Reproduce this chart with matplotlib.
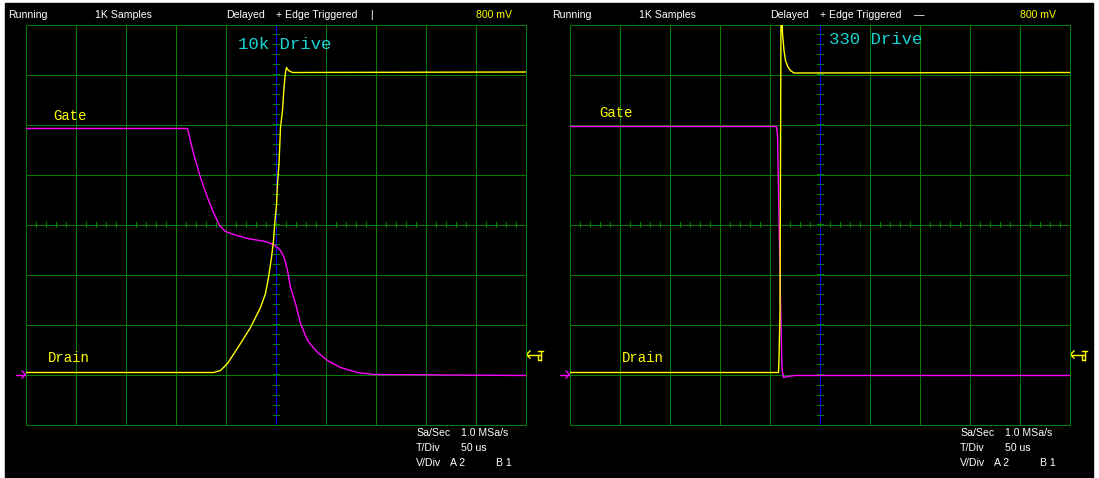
import matplotlib
matplotlib.use("Agg")
import matplotlib.pyplot as plt
from matplotlib.patches import Rectangle
import numpy as np

W, H = 1099, 478

# Scope traces, in screen divisions (x: -5..5, y: -4..4, 0 = screen centre)
GATE_10K_X = [-5.0, -1.76, -1.64, -1.50, -1.36, -1.24, -1.12, -1.00, -0.84, -0.56, -0.20,
              -0.04, 0.04, 0.10, 0.18, 0.24, 0.30, 0.40, 0.50, 0.64, 0.84, 1.04, 1.30, 1.64, 1.96, 5.0]
GATE_10K_Y = [1.92, 1.92, 1.42, 0.94, 0.54, 0.24, -0.02, -0.14, -0.20, -0.28, -0.34,
              -0.40, -0.46, -0.52, -0.68, -0.92, -1.26, -1.58, -1.98, -2.32, -2.56, -2.72, -2.86, -2.96, -3.00, -3.02]
DRAIN_10K_X = [-5.0, -1.24, -1.10, -0.96, -0.70, -0.50, -0.30, -0.20, -0.14, -0.08, -0.04, -0.01,
               0.02, 0.04, 0.07, 0.10, 0.14, 0.17, 0.20, 0.22, 0.26, 0.34, 5.0]
DRAIN_10K_Y = [-2.96, -2.96, -2.92, -2.78, -2.38, -2.06, -1.66, -1.38, -1.06, -0.66, -0.32, 0.08,
               0.38, 0.82, 1.22, 1.94, 2.28, 2.74, 3.04, 3.14, 3.08, 3.04, 3.05]

GATE_330_X = [-5.0, -0.86, -0.84, -0.78, -0.75, -0.72, -0.64, -0.48, 5.0]
GATE_330_Y = [1.96, 1.96, 1.78, -1.52, -2.88, -3.06, -3.04, -3.02, -3.02]
DRAIN_330_X = [-5.0, -0.82, -0.81, -0.79, -0.77, -0.76, -0.74, -0.71, -0.68, -0.63, -0.58, -0.51, 5.0]
DRAIN_330_Y = [-2.96, -2.96, -2.68, -1.76, 4.3, 4.5, 3.82, 3.48, 3.28, 3.15, 3.08, 3.03, 3.04]

PANEL_TITLES = ["10k Drive", "330 Drive"]
TRIG_SYMBOL = ["|", "\u2014"]
GND_LEVEL = -3.0
TRIG_LEVEL = -2.6

GREEN = "#008000"
YEL = "#FFFF00"
MAG = "#FF00FF"
CYAN = "#19D3D3"
SANS = "Liberation Sans"
MONO = "Liberation Mono"
LW = 0.5      # ~1 px, drawn aliased like the scope screen
TRACE_LW = 1.0


def fx(x):
    return x / W


def fy(y):
    return 1 - y / H


fig = plt.figure(figsize=(W / 100, H / 100), dpi=100, facecolor="white")
fig.add_artist(Rectangle((fx(5), fy(477)), 1088 / W, 474 / H, transform=fig.transFigure,
                         color="black", zorder=-5))


def panel(off, gate_x, gate_y, drain_x, drain_y, title, title_xy, gate_xy, drain_xy, trig):
    ax = fig.add_axes([fx(25.5 + off), fy(424.5), 500 / W, 400 / H])
    ax.set_facecolor("none")
    ax.set_xlim(-5, 5)
    ax.set_ylim(-4, 4)
    ax.set_xticks(np.arange(-5, 6))
    ax.set_yticks(np.arange(-4, 5))
    ax.tick_params(length=0, labelbottom=False, labelleft=False)
    ax.set_axisbelow(True)
    ax.grid(True, color=GREEN, lw=LW, antialiased=False)
    for s in ax.spines.values():
        s.set_color(GREEN)
        s.set_linewidth(LW)
        s.set_antialiased(False)
    # centre graticule: blue time reference + minor ticks
    ax.axvline(0, color="#0000FF", lw=LW, zorder=1.5, antialiased=False)
    minor = np.arange(-5, 5.01, 0.2)
    ax.vlines(minor, -0.05, 0.05, color=GREEN, lw=LW, zorder=1.6, antialiased=False)
    minor_y = np.arange(-4, 4.01, 0.2)
    ax.hlines(minor_y, -0.06, 0.06, color=GREEN, lw=LW, zorder=1.6, antialiased=False)

    ax.plot(gate_x, gate_y, color=MAG, lw=TRACE_LW, zorder=3)
    ax.plot(drain_x, drain_y, color=YEL, lw=TRACE_LW, zorder=4)

    # ground marker (left) and trigger level marker (right)
    kw = dict(lw=TRACE_LW, clip_on=False)
    ax.plot([-5.2, -5.0], [GND_LEVEL, GND_LEVEL], color=MAG, **kw)
    ax.plot([-5.07, -5.0, -5.07], [GND_LEVEL + 0.07, GND_LEVEL, GND_LEVEL - 0.07], color=MAG, **kw)
    ax.plot([5.02, 5.22], [TRIG_LEVEL, TRIG_LEVEL], color=YEL, **kw)
    ax.plot([5.09, 5.02, 5.09], [TRIG_LEVEL + 0.07, TRIG_LEVEL, TRIG_LEVEL - 0.07], color=YEL, **kw)
    ax.plot([5.245, 5.355], [TRIG_LEVEL + 0.07, TRIG_LEVEL + 0.07], color=YEL, **kw)
    ax.plot([5.315, 5.315], [TRIG_LEVEL + 0.07, TRIG_LEVEL - 0.1], color=YEL, **kw)
    ax.plot([5.245, 5.245, 5.315], [TRIG_LEVEL, TRIG_LEVEL - 0.1, TRIG_LEVEL - 0.1], color=YEL, **kw)
    ax.plot([5.245, 5.315], [TRIG_LEVEL, TRIG_LEVEL], color=YEL, **kw)

    # header
    for x, s in [(8, "Running"), (95, "1K Samples"), (226, "Delayed"),
                 (276, "+ Edge Triggered"), (370, trig)]:
        fig.text(fx(x + off), fy(18), s, color="white", family=SANS, size=7.6, va="baseline")
    fig.text(fx(476 + off), fy(18), "800 mV", color=YEL, family=SANS, size=7.6, va="baseline")

    # footer
    rows = [(436, "Sa/Sec", [(461, "1.0 MSa/s")]),
            (451, "T/Div", [(461, "50 us")]),
            (466, "V/Div", [(450, "A 2"), (496, "B 1")])]
    for y, lab, vals in rows:
        fig.text(fx(416 + off), fy(y), lab, color="white", family=SANS, size=7.6, va="baseline")
        for x, v in vals:
            fig.text(fx(x + off), fy(y), v, color="white", family=SANS, size=7.6, va="baseline")

    # trace labels
    fig.text(fx(title_xy[0]), fy(title_xy[1]), title, color=CYAN, family=MONO, size=12.5, va="baseline")
    fig.text(fx(gate_xy[0]), fy(gate_xy[1]), "Gate", color=YEL, family=MONO, size=10, va="baseline")
    fig.text(fx(drain_xy[0]), fy(drain_xy[1]), "Drain", color=YEL, family=MONO, size=10, va="baseline")


panel(0, GATE_10K_X, GATE_10K_Y, DRAIN_10K_X, DRAIN_10K_Y, PANEL_TITLES[0],
      (238, 49), (53, 120), (48, 362), TRIG_SYMBOL[0])
panel(544, GATE_330_X, GATE_330_Y, DRAIN_330_X, DRAIN_330_Y, PANEL_TITLES[1],
      (829, 43.5), (599, 117), (622, 362), TRIG_SYMBOL[1])

fig.savefig("out.png", dpi=100, facecolor="white")
